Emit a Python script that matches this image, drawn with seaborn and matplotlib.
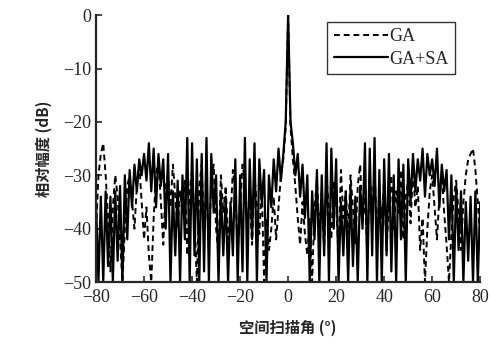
import numpy as np
import pandas as pd
import seaborn as sns
import matplotlib.pyplot as plt

# scan angle, degrees
angle = list(range(-80, 81))

# GA+SA pattern (dB) at 1 degree steps
ga_sa = [
    -35, -50, -34, -50, -33, -47, -34, -50, -33, -46,
    -32, -50, -30, -42, -29, -36, -28, -33, -27, -30,
    -26, -31, -24, -33, -25, -36, -26, -32, -27, -40,
    -26, -50, -33, -45, -31, -50, -30, -42, -23, -50,
    -24, -45, -27, -50, -26, -48, -23, -50, -26, -37,
    -30, -50, -33, -45, -34, -50, -35, -45, -27, -50,
    -30, -48, -23, -50, -27, -42, -24, -50, -27, -35,
    -29, -50, -30, -36, -27, -33, -25, -31, -26, -20,
    0,
    -20, -24, -30, -26, -34, -28, -38, -30, -50, -33,
    -42, -29, -50, -30, -45, -24, -50, -25, -40, -27,
    -50, -35, -45, -33, -50, -32, -47, -34, -50, -32,
    -40, -24, -50, -25, -45, -23, -50, -29, -50, -27,
    -45, -26, -48, -30, -50, -27, -42, -28, -50, -27,
    -35, -26, -33, -27, -31, -25, -34, -26, -30, -27,
    -32, -25, -36, -28, -33, -29, -42, -30, -50, -32,
    -44, -33, -50, -35, -46, -34, -50, -33, -50, -35,
]

# GA pattern (dB)
ga = [
    -40, -30, -26, -24, -30, -38, -48, -36, -30, -34,
    -42, -50, -40, -32, -30, -35, -40, -32, -28, -35,
    -42, -36, -45, -50, -38, -30, -27, -35, -43, -32,
    -30, -36, -28, -34, -40, -33, -37, -31, -45, -33,
    -29, -38, -50, -32, -28, -40, -33, -44, -31, -28,
    -40, -45, -30, -37, -32, -42, -38, -29, -33, -44,
    -36, -28, -31, -39, -34, -43, -30, -36, -41, -32,
    -50, -38, -44, -40, -34, -42, -36, -30, -27, -21,
    0,
    -21, -27, -32, -38, -43, -35, -41, -45, -38, -50,
    -36, -31, -40, -33, -44, -30, -37, -42, -31, -35,
    -45, -29, -38, -33, -41, -30, -36, -43, -32, -28,
    -39, -34, -45, -30, -37, -29, -42, -33, -38, -31,
    -44, -35, -30, -40, -33, -37, -29, -42, -34, -31,
    -39, -29, -36, -32, -44, -38, -50, -40, -33, -30,
    -36, -42, -34, -30, -37, -43, -50, -41, -34, -31,
    -37, -44, -35, -30, -27, -26, -25, -29, -35, -42,
]

df_ga = pd.DataFrame({'angle': angle, 'dB': ga})
df_gasa = pd.DataFrame({'angle': angle, 'dB': ga_sa})

sns.set_style('ticks')
plt.rcParams['font.family'] = ['Liberation Serif', 'Noto Sans CJK SC']
plt.rcParams['xtick.direction'] = 'in'
plt.rcParams['ytick.direction'] = 'in'

fig = plt.figure(figsize=(4.9, 3.44), dpi=100)
ax = fig.add_axes([0.196, 0.18, 0.784, 0.776])

sns.lineplot(data=df_ga, x='angle', y='dB', color='black', linestyle=(0, (3, 2)),
             linewidth=1.4, label='GA', ax=ax)
sns.lineplot(data=df_gasa, x='angle', y='dB', color='black', linestyle='-',
             linewidth=1.6, label='GA+SA', ax=ax)

ax.set_xlim(-80, 80)
ax.set_ylim(-50, 0)
ax.set_xticks(range(-80, 81, 20))
ax.set_yticks(range(-50, 1, 10))
ax.tick_params(labelsize=13, length=4, width=1.2)
ax.tick_params(axis='x', pad=5)
sns.despine(ax=ax)
for s in ['left', 'bottom']:
    ax.spines[s].set_linewidth(1.6)

ax.set_xlabel('空间扫描角 (°)', family=['Noto Sans CJK SC'], fontsize=11,
              fontweight='bold', labelpad=10)
ax.set_ylabel('相对幅度 (dB)', family=['Noto Sans CJK SC'], fontsize=11,
              fontweight='bold', labelpad=8)

leg = ax.legend(loc='upper right', bbox_to_anchor=(0.935, 0.975), fontsize=13,
                frameon=True, fancybox=False, edgecolor='black',
                handlelength=3.0, borderpad=0.35, labelspacing=0.3,
                handletextpad=0.1, borderaxespad=0)
leg.get_frame().set_linewidth(1.0)

fig.savefig('out.png', dpi=100)
